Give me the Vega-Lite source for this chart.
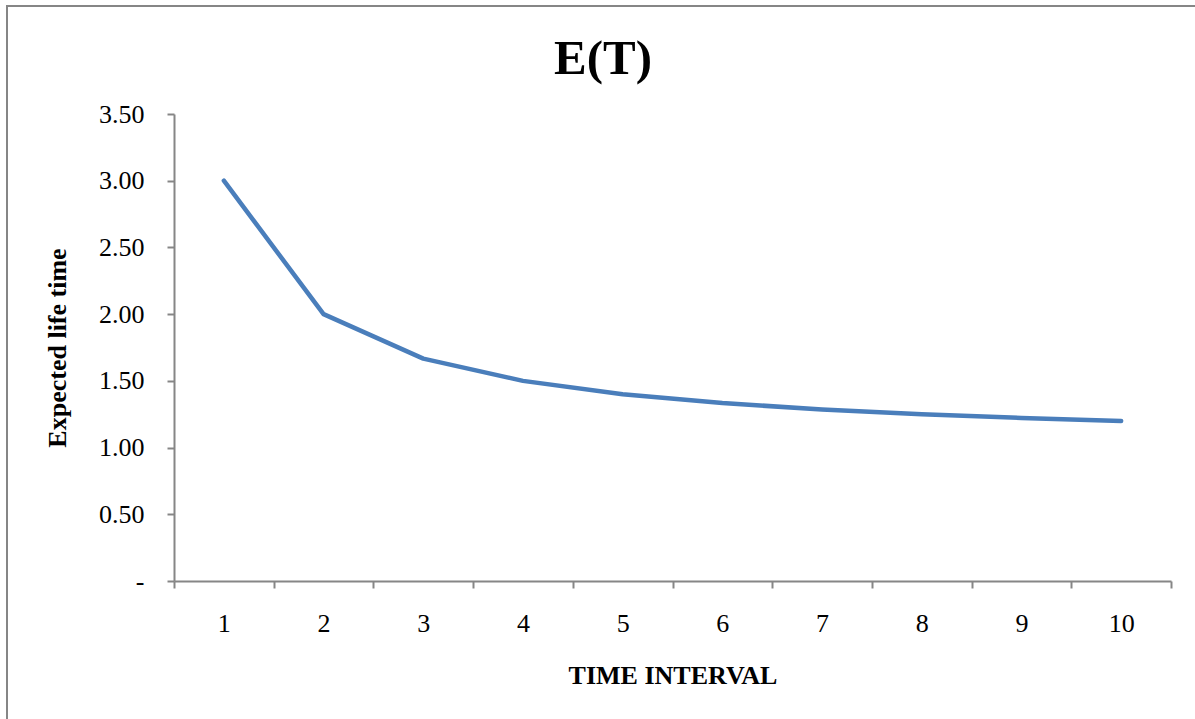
{
  "$schema": "https://vega.github.io/schema/vega-lite/v6.json",
  "autosize": "none",
  "padding": {"left": 7, "top": 6, "right": 0, "bottom": 0},
  "width": 1188,
  "height": 713,
  "background": "white",
  "config": {
    "font": "Liberation Serif",
    "view": {"stroke": "#868686", "strokeWidth": 2, "strokeDash": [1188, 1901, 713]},
    "axis": {
      "domainColor": "#868686",
      "domainWidth": 2,
      "tickColor": "#868686",
      "tickWidth": 2,
      "tickSize": 7,
      "grid": false,
      "labelFont": "Liberation Serif",
      "labelFontSize": 26,
      "labelColor": "#000000",
      "titleFont": "Liberation Serif",
      "titleFontSize": 26,
      "titleFontWeight": "bold",
      "titleColor": "#000000"
    }
  },
  "title": {
    "text": "E(T)",
    "font": "Liberation Serif",
    "fontSize": 49,
    "fontWeight": "bold",
    "color": "#000000",
    "anchor": "middle",
    "frame": "group",
    "baseline": "alphabetic",
    "offset": -69,
    "dx": 2,
    "dy": 48
  },
  "data": {
    "values": [
      {"interval": 1, "expected": 3.0},
      {"interval": 2, "expected": 2.0},
      {"interval": 3, "expected": 1.6667},
      {"interval": 4, "expected": 1.5},
      {"interval": 5, "expected": 1.4},
      {"interval": 6, "expected": 1.3333},
      {"interval": 7, "expected": 1.2857},
      {"interval": 8, "expected": 1.25},
      {"interval": 9, "expected": 1.2222},
      {"interval": 10, "expected": 1.2}
    ]
  },
  "mark": {
    "type": "line",
    "color": "#4A7EBB",
    "strokeWidth": 4.5,
    "strokeCap": "round",
    "strokeJoin": "round"
  },
  "encoding": {
    "x": {
      "field": "interval",
      "type": "ordinal",
      "bandPosition": 0.5,
      "scale": {"type": "band", "paddingInner": 0, "paddingOuter": 0, "range": [167, 1164]},
      "axis": {
        "title": "TIME INTERVAL",
        "labelAngle": 0,
        "offset": -138,
        "tickBand": "extent",
        "labelPadding": 22,
        "titleBaseline": "alphabetic",
        "titleY": 102
      }
    },
    "y": {
      "field": "expected",
      "type": "quantitative",
      "scale": {"domain": [0, 3.5], "nice": false, "range": [575, 108]},
      "axis": {
        "title": "Expected life time",
        "offset": -167,
        "values": [0, 0.5, 1, 1.5, 2, 2.5, 3, 3.5],
        "labelExpr": "datum.value == 0 ? '-\u2007' : format(datum.value, '.2f')",
        "labelPadding": 23,
        "titleBaseline": "alphabetic",
        "titleX": -109
      }
    }
  }
}
